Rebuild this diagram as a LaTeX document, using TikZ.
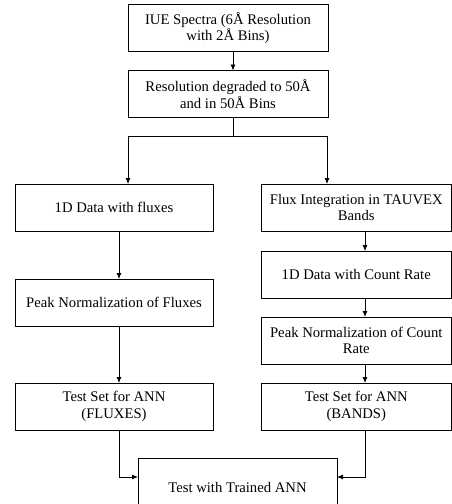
\documentclass[tikz,border=0pt]{standalone}
\usepackage{fontspec}
\setmainfont{Liberation Serif}
\usepackage{tikz}
\usetikzlibrary{positioning,arrows.meta}

\begin{document}
\begin{tikzpicture}[x=1pt,y=1pt]
		\tikzstyle{box}=[rectangle, draw=black, line width=0.8pt, inner sep=0pt, outer sep=0pt, minimum height=47pt, align=center, font=\fontsize{14.67}{16.5}\selectfont]
		\tikzstyle{topbox}=[box, minimum width=200pt]
		\tikzstyle{leftbox}=[box, minimum width=198pt]
		\tikzstyle{rightbox}=[box, minimum width=190.5pt]
		\tikzstyle{connect}=[-{Latex[length=6pt,width=5pt]}, line width=0.8pt]
		\useasboundingbox (0,0) rectangle (452,-504);
		
		\node[topbox] (iue) at (228,-28) {IUE Spectra (6Å Resolution\\with 2Å Bins)};
		\node[topbox] (res) [below=19pt of iue] {Resolution degraded to 50Å\\and in 50Å Bins};
		
		\node[leftbox] (flux1d) at (114,-207.5) {1D Data with fluxes};
		\node[leftbox] (peakflux) [below=48pt of flux1d] {Peak Normalization of Fluxes};
		\node[leftbox] (setflux) [below=57pt of peakflux] {Test Set for ANN\\(FLUXES)};
		
		\node[rightbox] (integ) at (356.25,-207.5) {Flux Integration in TAUVEX\\Bands};
		\node[rightbox] (count1d) [below=20pt of integ] {1D Data with Count Rate};
		\node[rightbox] (peakcount) [below=19pt of count1d] {Peak Normalization of Count\\Rate};
		\node[rightbox] (setband) [below=19pt of peakcount] {Test Set for ANN\\(BANDS)};
		
		\node[box, minimum width=199pt, minimum height=58pt] (ann) at (237.5,-487) {Test with Trained ANN};
		
		\path ([xshift=5pt]iue.south) edge [connect] ([xshift=5pt]res.south |- res.north);
		\coordinate (fork) at ([xshift=5pt,yshift=-19pt]res.south);
		\draw[line width=0.8pt] ([xshift=5pt]res.south) -- (fork);
		\draw[connect] (fork) -| ([xshift=14pt]flux1d.north);
		\draw[connect] (fork) -| ([xshift=-29.25pt]integ.north);
		
		\path ([xshift=5pt]flux1d.south) edge [connect] ([xshift=5pt]peakflux.north);
		\path ([xshift=5pt]peakflux.south) edge [connect] ([xshift=5pt]setflux.north);
		\draw[connect] ([xshift=5pt]setflux.south) |- ([yshift=10pt]ann.west);
		
		\path ([xshift=8.75pt]integ.south) edge [connect] ([xshift=8.75pt]count1d.north);
		\path ([xshift=8.75pt]count1d.south) edge [connect] ([xshift=8.75pt]peakcount.north);
		\path ([xshift=8.75pt]peakcount.south) edge [connect] ([xshift=8.75pt]setband.north);
		\draw[connect] ([xshift=8.75pt]setband.south) |- ([yshift=10pt]ann.east);
		
		%\node[rectangle, draw, fit=(flux1d) (setflux)] {};
	\end{tikzpicture}
\end{document}
